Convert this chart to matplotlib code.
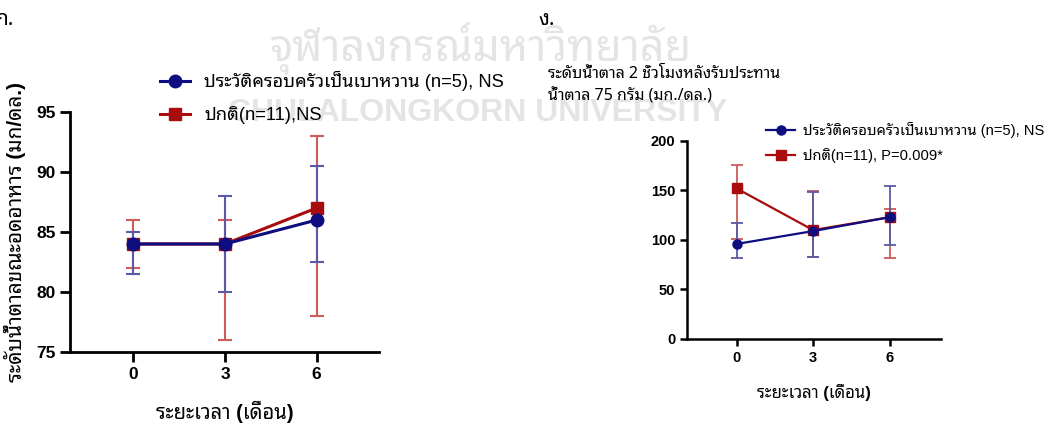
import matplotlib
matplotlib.use("Agg")
import matplotlib.pyplot as plt
from matplotlib import font_manager

# ---------------- data ----------------
months = [0, 3, 6]
month_labels = ["0", "3", "6"]

label_fh_left = "ประวัติครอบครัวเป็นเบาหวาน (n=5), NS"
label_nm_left = "ปกติ(n=11),NS"
label_fh_right = "ประวัติครอบครัวเป็นเบาหวาน (n=5), NS"
label_nm_right = "ปกติ(n=11), P=0.009*"

# fasting glucose (left panel)
fbs_fh = [84, 84, 86]
fbs_fh_low = [81.5, 80, 82.5]
fbs_fh_high = [85, 88, 90.5]
fbs_nm = [84, 84, 87]
fbs_nm_low = [82, 76, 78]
fbs_nm_high = [86, 86, 93]

# 2-hour glucose (right panel)
ogtt_fh = [96, 109, 123]
ogtt_fh_low = [82, 83, 95]
ogtt_fh_high = [117, 148, 155]
ogtt_nm = [152, 110, 123]
ogtt_nm_low = [101, 83, 82]
ogtt_nm_high = [176, 149, 131]

left_yticks = [75, 80, 85, 90, 95]
right_yticks = [0, 50, 100, 150, 200]

# ---------------- fonts ----------------
names = {f.name for f in font_manager.fontManager.ttflist}
thai = next((n for n in ["Noto Sans Thai Looped", "Noto Sans Thai", "Sarabun",
                         "IBM Plex Sans Thai Looped", "Anuphan"] if n in names),
            "DejaVu Sans")
FAM = ["Liberation Sans", thai, "DejaVu Sans"]
plt.rcParams['font.family'] = FAM

BLUE = "#0d0d80"
RED = "#a80c0c"
BLUE_E = "#5a5aa8"
RED_E = "#cf5a5a"

fig = plt.figure(figsize=(10.57, 4.25), dpi=100)

# watermark
fig.text(0.455, 0.885, "จุฬาลงกรณ์มหาวิทยาลัย", ha='center', va='center',
         fontsize=31, fontweight='bold', color='#e4e4e4', zorder=-5,
         family=[thai, "DejaVu Sans"])
fig.text(0.452, 0.735, "CHULALONGKORN UNIVERSITY", ha='center', va='center',
         fontsize=23, fontweight='bold', color='#e4e4e4', zorder=-5)


def draw(ax, y1, l1, h1, y2, l2, h2, lab1, lab2, ms, cap, lw_e, lw):
    e1 = [[a - b for a, b in zip(y1, l1)], [b - a for a, b in zip(y1, h1)]]
    e2 = [[a - b for a, b in zip(y2, l2)], [b - a for a, b in zip(y2, h2)]]
    ax.errorbar(months, y2, yerr=e2, fmt='none', ecolor=RED_E, elinewidth=lw_e,
                capsize=cap, capthick=lw_e, zorder=2)
    ax.errorbar(months, y1, yerr=e1, fmt='none', ecolor=BLUE_E, elinewidth=lw_e,
                capsize=cap, capthick=lw_e, zorder=2)
    h2_, = ax.plot(months, y2, color=RED, lw=lw, marker='s', ms=ms, zorder=3, label=lab2)
    h1_, = ax.plot(months, y1, color=BLUE, lw=lw, marker='o', ms=ms, zorder=4, label=lab1)
    ax.set_xticks(months)
    ax.set_xticklabels(month_labels)
    for s in ['top', 'right']:
        ax.spines[s].set_visible(False)
    ax.patch.set_alpha(0)
    return h1_, h2_


# left panel
axL = fig.add_axes([0.0662, 0.1718, 0.2924, 0.5647])
h1, h2 = draw(axL, fbs_fh, fbs_fh_low, fbs_fh_high, fbs_nm, fbs_nm_low, fbs_nm_high,
              label_fh_left, label_nm_left, ms=9, cap=5, lw_e=1.5, lw=2.2)
axL.set_xlim(-2.07, 8.04)
axL.set_ylim(75, 95)
axL.set_yticks(left_yticks)
for s in ['left', 'bottom']:
    axL.spines[s].set_linewidth(2)
axL.tick_params(width=2, length=7, labelsize=12.5)
for t in axL.get_xticklabels() + axL.get_yticklabels():
    t.set_fontweight('bold')
axL.set_ylabel("ระดับน้ำตาลขณะอดอาหาร (มก/ดล.)", fontsize=15, fontweight='bold',
               labelpad=7)
axL.set_xlabel("ระยะเวลา (เดือน)", fontsize=14.5, fontweight='bold', labelpad=14)
fig.legend([h1, h2], [label_fh_left, label_nm_left], loc='center left',
           bbox_to_anchor=(0.136, 0.77), frameon=False, fontsize=13.2,
           handlelength=1.6, labelspacing=0.8, handletextpad=0.8)

# right panel
axR = fig.add_axes([0.6502, 0.2024, 0.2401, 0.4659])
g1, g2 = draw(axR, ogtt_fh, ogtt_fh_low, ogtt_fh_high, ogtt_nm, ogtt_nm_low, ogtt_nm_high,
              label_fh_right, label_nm_right, ms=6.5, cap=4, lw_e=1.3, lw=1.6)
axR.set_xlim(-1.94, 8.02)
axR.set_ylim(0, 200)
axR.set_yticks(right_yticks)
for s in ['left', 'bottom']:
    axR.spines[s].set_linewidth(1.8)
axR.tick_params(width=1.8, length=5, labelsize=10.5)
for t in axR.get_xticklabels() + axR.get_yticklabels():
    t.set_fontweight('bold')
axR.set_xlabel("ระยะเวลา (เดือน)", fontsize=12, fontweight='bold', labelpad=14)
fig.legend([g1, g2], [label_fh_right, label_nm_right], loc='center left',
           bbox_to_anchor=(0.712, 0.665), frameon=False, fontsize=10.6,
           handlelength=2.0, labelspacing=0.65, handletextpad=0.5)

# titles / panel letters
fig.text(0.518, 0.80, "ระดับน้ำตาล 2 ชั่วโมงหลังรับประทาน\nน้ำตาล 75 กรัม (มก./ดล.)",
         ha='left', va='center', fontsize=11.5, linespacing=1.5,
         family=[thai, "DejaVu Sans"])
fig.text(-0.004, 0.955, "ก.", ha='left', va='center', fontsize=15,
         family=[thai, "DejaVu Sans"])
fig.text(0.509, 0.955, "ง.", ha='left', va='center', fontsize=15,
         family=[thai, "DejaVu Sans"])

fig.savefig("out.png", dpi=100)
